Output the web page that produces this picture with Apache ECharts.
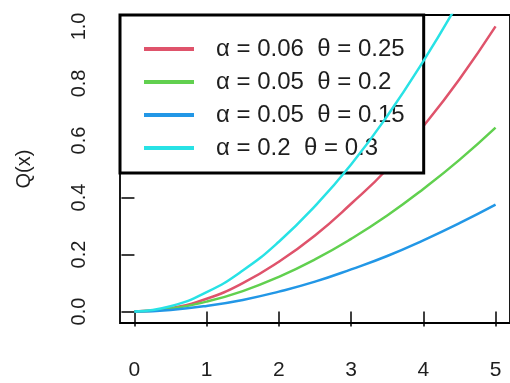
<!DOCTYPE html>
<html>
<head>
<meta charset="utf-8">
<script src="https://cdn.jsdelivr.net/npm/echarts@6/dist/echarts.min.js"></script>
<style>
  html, body { margin: 0; padding: 0; background: #fff; }
  #chart { width: 510px; height: 383px; }
</style>
</head>
<body>
<div id="chart"></div>
<script>
// Q(x) curves for four (alpha, theta) parameter pairs
const xValues = [0, 0.5, 1, 1.5, 2, 2.5, 3, 3.5, 4, 4.5, 5];
const seriesNames = [
  'α = 0.06  θ = 0.25',
  'α = 0.05  θ = 0.2',
  'α = 0.05  θ = 0.15',
  'α = 0.2  θ = 0.3'
];
const qRed   = [0, 0.012, 0.045, 0.100, 0.175, 0.267, 0.378, 0.500, 0.650, 0.815, 1.000];
const qGreen = [0, 0.010, 0.035, 0.072, 0.122, 0.183, 0.255, 0.337, 0.430, 0.532, 0.645];
const qBlue  = [0, 0.006, 0.020, 0.041, 0.070, 0.105, 0.148, 0.195, 0.250, 0.310, 0.375];
const qCyan  = [0, 0.019, 0.068, 0.144, 0.245, 0.370, 0.516, 0.686, 0.878, 1.090];
const seriesColors = ['#DF536B', '#61D04F', '#2297E6', '#28E2E5'];
const xTicks = [0, 1, 2, 3, 4, 5];
const yTicks = [0, 0.2, 0.4, 0.6, 0.8, 1.0];
const yAxisTitle = 'Q(x)';

const FONT = '"Liberation Sans", Arial, Helvetica, sans-serif';
const TEXT = '#1e1e1e';

const curves = [qRed, qGreen, qBlue, qCyan];
const series = curves.map((vals, i) => ({
  name: seriesNames[i],
  type: 'line',
  data: vals.map((v, j) => [xValues[j], v]),
  smooth: true,
  symbol: 'none',
  clip: true,
  lineStyle: { color: seriesColors[i], width: 2.5 },
  itemStyle: { color: seriesColors[i] },
  z: 2 + i
}));

const chart = echarts.init(document.getElementById('chart'), null, { renderer: 'canvas' });
chart.setOption({
  animation: false,
  backgroundColor: '#fff',
  grid: {
    left: 120, top: 15, width: 393, height: 308,
    show: true, borderColor: '#000', borderWidth: 1.8, backgroundColor: 'transparent'
  },
  xAxis: {
    type: 'value', min: -0.2, max: 5.2, offset: 2,
    axisLine: { show: false },
    splitLine: { show: false },
    axisTick: { show: true, customValues: xTicks, length: 15, lineStyle: { color: '#000', width: 1.5 } },
    axisLabel: { customValues: xTicks, margin: 35, fontSize: 21, fontFamily: FONT, color: TEXT }
  },
  yAxis: {
    type: 'value', min: -0.04, max: 1.04,
    axisLine: { show: false },
    splitLine: { show: false },
    axisTick: { show: true, customValues: yTicks, length: 13, lineStyle: { color: '#000', width: 1.5 } },
    axisLabel: {
      customValues: yTicks, rotate: 90, margin: 31, fontSize: 20, fontFamily: FONT, color: TEXT,
      formatter: v => v.toFixed(1)
    },
    name: yAxisTitle, nameLocation: 'middle', nameRotate: 90, nameGap: 86,
    nameTextStyle: { fontSize: 20, fontFamily: FONT, color: TEXT }
  },
  legend: {
    orient: 'vertical', left: 120, top: 15,
    padding: [22, 19, 13, 24],
    icon: 'rect',
    itemWidth: 50, itemHeight: 4, itemGap: 9,
    backgroundColor: '#fff', borderColor: '#000', borderWidth: 3,
    selectedMode: false,
    textStyle: { fontSize: 24, lineHeight: 22, fontFamily: FONT, color: TEXT, padding: [0, 0, 0, 17] },
    data: seriesNames
  },
  series: series
});
</script>
</body>
</html>
